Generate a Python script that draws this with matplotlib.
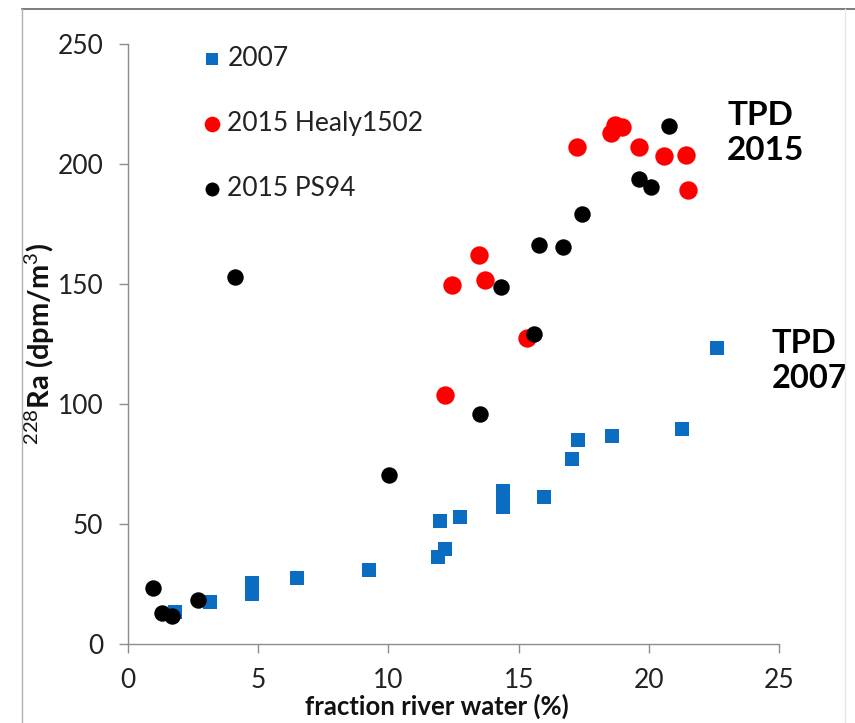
import matplotlib
matplotlib.use("Agg")
import matplotlib.pyplot as plt
from matplotlib.lines import Line2D

plt.rcParams['font.family'] = ['Lato', 'DejaVu Sans']
plt.rcParams['mathtext.fontset'] = 'custom'
plt.rcParams['mathtext.rm'] = 'Lato'
plt.rcParams['mathtext.it'] = 'Lato:italic'
plt.rcParams['mathtext.bf'] = 'Lato:bold'

# 2007 samples
x_2007 = [1.8, 3.15, 4.78, 4.78, 6.48, 9.26, 11.92, 11.98, 12.18, 12.73,
          14.39, 14.39, 14.39, 15.99, 17.06, 17.29, 18.57, 21.28, 22.62]
ra_2007 = [13.5, 17.4, 25.2, 20.8, 27.4, 30.8, 36.1, 51.4, 39.4, 53.0,
           63.5, 60.2, 57.0, 61.4, 77.1, 85.0, 86.6, 89.4, 123.2]

# 2015 Healy1502
x_healy = [12.18, 12.44, 13.47, 13.71, 15.31, 17.23, 18.55, 18.7, 18.98,
           19.63, 20.59, 21.42, 21.49]
ra_healy = [103.8, 149.5, 162.0, 151.6, 127.3, 207.1, 212.7, 216.3, 215.5,
            207.1, 203.4, 203.7, 189.1]

# 2015 PS94
x_ps94 = [0.98, 1.33, 1.71, 2.70, 4.12, 10.03, 13.52, 14.31, 15.59, 15.78,
          16.70, 17.42, 19.61, 20.08, 20.78]
ra_ps94 = [23.3, 12.8, 11.8, 18.3, 153.0, 70.3, 95.8, 148.6, 129.1, 166.2,
           165.2, 179.0, 193.5, 190.5, 215.9]

blue = '#0a6dc2'
red = '#ff0000'

fig = plt.figure(figsize=(8.55, 7.23), dpi=100)
ax = fig.add_axes([0.1494, 0.1093, 0.7621, 0.8303])

ax.scatter(x_2007, ra_2007, marker='s', s=115, color=blue, linewidths=0,
           label='2007', zorder=3)
ax.scatter(x_healy, ra_healy, marker='o', s=175, color=red, linewidths=0,
           label='2015 Healy1502', zorder=3)
ax.scatter(x_ps94, ra_ps94, marker='o', s=140, color='black', linewidths=0,
           label='2015 PS94', zorder=4)

ax.set_xlim(0, 25)
ax.set_ylim(0, 250)
ax.set_xticks([0, 5, 10, 15, 20, 25])
ax.set_yticks([0, 50, 100, 150, 200, 250])

for side in ['top', 'right']:
    ax.spines[side].set_visible(False)
for side in ['left', 'bottom']:
    ax.spines[side].set_color('#8c8c8c')
    ax.spines[side].set_linewidth(1.0)
ax.tick_params(axis='both', direction='out', length=6.5, width=1.0,
               color='#8c8c8c', labelsize=19, labelcolor='#222222', pad=11)

ax.set_xlabel('fraction river water (%)', fontsize=18.5, fontweight='bold',
              color='#111111')
ax.xaxis.set_label_coords(0.474, -0.083)
ax.set_ylabel(r'$^{228}$Ra (dpm/m$^{3}$)', fontsize=21, fontweight='bold',
              color='#111111')
ax.yaxis.set_label_coords(-0.109, 0.5)

ax.legend(loc='upper left', bbox_to_anchor=(0.072, 1.035), frameon=False,
          fontsize=19, labelspacing=1.5, handletextpad=0.1, handlelength=1.0,
          markerscale=0.85, scatterpoints=1, labelcolor='#222222')

ax.text(0.92, 0.905, 'TPD\n2015', transform=ax.transAxes, fontsize=24,
        fontweight='bold', va='top', ha='left', linespacing=1.25,
        clip_on=False)
ax.text(0.988, 0.525, 'TPD\n2007', transform=ax.transAxes, fontsize=23.5,
        fontweight='bold', va='top', ha='left', linespacing=1.25,
        clip_on=False)

# slide frame
fig.add_artist(Line2D([22 / 855, 1], [1 - 9 / 723, 1 - 9 / 723],
                      color='#666666', lw=1.2))
fig.add_artist(Line2D([22 / 855, 22 / 855], [0, 1 - 9 / 723],
                      color='#b0b0b0', lw=1.0))
fig.add_artist(Line2D([845 / 855, 845 / 855], [0, 1 - 9 / 723],
                      color='#e8e8e8', lw=1.0))

fig.savefig('out.png', dpi=100)
